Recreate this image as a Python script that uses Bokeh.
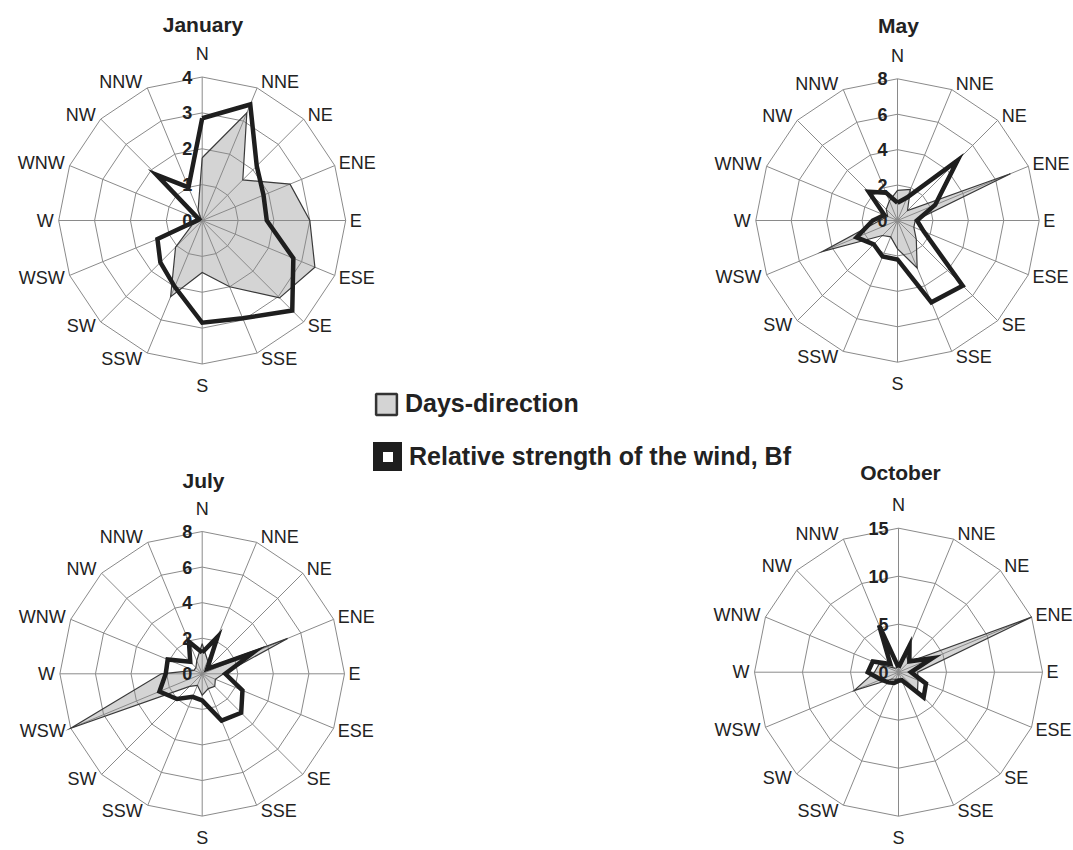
import math
from bokeh.plotting import figure
from bokeh.models import Range1d, Legend, LegendItem
from bokeh.core.properties import value
from bokeh.embed import file_html
from bokeh.resources import INLINE

# ---------------- data ----------------
directions = ["N", "NNE", "NE", "ENE", "E", "ESE", "SE", "SSE",
              "S", "SSW", "SW", "WSW", "W", "WNW", "NW", "NNW"]

jan_days = [1.75, 3.25, 1.6, 2.65, 3.0, 3.4, 3.05, 2.0, 1.45, 2.3, 1.05, 0.3, 0.05, 0.05, 0.05, 0.3]
jan_strength = [2.85, 3.5, 2.15, 1.85, 1.8, 2.75, 3.55, 2.95, 2.85, 2.0, 1.65, 1.35, 0.15, 0.1, 1.8, 1.0]
jan_ticks = [0, 1, 2, 3, 4]

may_days = [1.7, 1.9, 0.8, 6.9, 1.0, 1.0, 1.5, 2.9, 1.6, 1.0, 1.2, 4.6, 1.0, 0.6, 0.9, 1.2]
may_strength = [1.0, 1.4, 4.8, 2.3, 1.1, 1.6, 5.2, 5.0, 2.2, 2.2, 1.9, 2.5, 1.4, 0.8, 2.3, 1.7]
may_ticks = [0, 2, 4, 6, 8]

jul_days = [1.7, 0.8, 0.5, 5.2, 1.2, 0.8, 1.0, 0.9, 1.2, 0.7, 1.0, 8.0, 2.3, 0.5, 0.5, 0.8]
jul_strength = [1.2, 2.25, 0.4, 3.1, 1.3, 2.45, 3.1, 2.85, 1.5, 1.4, 2.0, 2.6, 2.05, 2.1, 0.95, 1.95]
jul_ticks = [0, 2, 4, 6, 8]

oct_days = [0.8, 2.0, 1.5, 15.0, 2.0, 2.2, 2.8, 0.8, 0.7, 0.8, 1.0, 5.0, 2.5, 2.2, 0.6, 0.5]
oct_strength = [0.5, 3.0, 1.6, 3.8, 1.3, 3.1, 3.7, 0.9, 0.9, 1.2, 1.5, 2.0, 3.2, 2.9, 1.2, 5.3]
oct_ticks = [0, 5, 10, 15]

series_names = ["Days-direction", "Relative strength of the wind, Bf"]

charts = [
    ("January", jan_days, jan_strength, jan_ticks),
    ("May", may_days, may_strength, may_ticks),
    ("July", jul_days, jul_strength, jul_ticks),
    ("October", oct_days, oct_strength, oct_ticks),
]

# ---------------- layout (page pixels) ----------------
W, H = 1073, 850
geom = {
    "January": dict(cx=201.7, cy=220.0, R=143.5, tx=202.5, ty=24),
    "May": dict(cx=897.0, cy=220.0, R=141.7, tx=898.0, ty=25),
    "July": dict(cx=201.7, cy=673.3, R=142.3, tx=203.0, ty=480),
    "October": dict(cx=898.0, cy=671.7, R=144.0, tx=900.0, ty=472),
}

FONT = "Liberation Sans"
TXT = "#222222"
GRID = "#8a8a8a"
GRAY_FILL = "#d4d4d4"
GRAY_LINE = "#3a3a3a"
BLACK = "#1e1e1e"

p = figure(width=W, height=H, x_range=Range1d(0, W), y_range=Range1d(H, 0),
           output_backend="svg", toolbar_location=None, min_border=0,
           x_axis_type=None, y_axis_type=None)
p.outline_line_color = None
p.background_fill_color = "white"
p.border_fill_color = "white"

n = len(directions)
angles = [2 * math.pi * k / n for k in range(n)]


def to_xy(g, vals, vmax):
    xs = [g["cx"] + g["R"] * v / vmax * math.sin(a) for v, a in zip(vals, angles)]
    ys = [g["cy"] - g["R"] * v / vmax * math.cos(a) for v, a in zip(vals, angles)]
    return xs, ys


for name, days, strength, ticks in charts:
    g = geom[name]
    vmax = ticks[-1]
    cx, cy, R = g["cx"], g["cy"], g["R"]

    # gray area fill
    dx, dy = to_xy(g, days, vmax)
    p.patch(dx, dy, fill_color=GRAY_FILL, line_color=None)

    # grid rings and spokes
    ring_xs, ring_ys = [], []
    for t in ticks[1:]:
        rx, ry = to_xy(g, [t] * n, vmax)
        ring_xs.append(rx + [rx[0]])
        ring_ys.append(ry + [ry[0]])
    ox, oy = to_xy(g, [vmax] * n, vmax)
    for x1, y1 in zip(ox, oy):
        ring_xs.append([cx, x1])
        ring_ys.append([cy, y1])
    p.multi_line(ring_xs, ring_ys, line_color=GRID, line_width=1)

    # gray outline
    p.line(dx + [dx[0]], dy + [dy[0]], line_color=GRAY_LINE, line_width=1.2, line_join="miter")

    # strength line
    sx, sy = to_xy(g, strength, vmax)
    p.line(sx + [sx[0]], sy + [sy[0]], line_color=BLACK, line_width=4.5, line_join="miter")

    # direction labels
    groups = {"left": ([], [], []), "right": ([], [], []), "center": ([], [], [])}
    for k, (d, a) in enumerate(zip(directions, angles)):
        vx, vy = ox[k], oy[k]
        if k == 0:
            grp, x, y = "center", vx, vy - 23
        elif k == n // 2:
            grp, x, y = "center", vx, vy + 22
        elif k < n // 2:
            grp, x, y = "left", vx + 4, vy - 6 * math.cos(a)
        else:
            grp, x, y = "right", vx - 5, vy - 6 * math.cos(a)
        groups[grp][0].append(x)
        groups[grp][1].append(y)
        groups[grp][2].append(d)
    for align, (xs, ys, ts) in groups.items():
        p.text(xs, ys, text=ts, text_align=align, text_baseline="middle",
               text_font=value(FONT), text_font_size="18px", text_color=TXT)

    # tick labels
    tys = [cy - R * t / vmax for t in ticks]
    p.text([cx - 10] * len(ticks), tys, text=[str(t) for t in ticks], text_align="right",
           text_baseline="middle", text_font=value(FONT), text_font_size="18px",
           text_font_style="bold", text_color=TXT)

    # title
    p.text([g["tx"]], [g["ty"]], text=[name], text_align="center", text_baseline="middle",
           text_font=value(FONT), text_font_size="21px", text_font_style="bold", text_color=TXT)

# ---------------- legend ----------------
nan = float("nan")
leg_days = p.patch(x=[nan], y=[nan], fill_color=GRAY_FILL, line_color="#333333", line_width=2.5)
leg_str = p.patch(x=[nan], y=[nan], fill_color="white", line_color=BLACK, line_width=13.2)

common = dict(padding=0, margin=0, border_line_color=None, background_fill_alpha=0,
              label_text_font=FONT, label_text_font_size="25px", label_text_font_style="bold",
              label_text_color=TXT, spacing=0)
legend1 = Legend(items=[LegendItem(label=series_names[0], renderers=[leg_days])],
                 location=(373, H - 418), glyph_width=26, glyph_height=26,
                 label_standoff=6, **common)
legend2 = Legend(items=[LegendItem(label=series_names[1], renderers=[leg_str])],
                 location=(373, H - 471), glyph_width=29, glyph_height=29,
                 label_standoff=7, **common)
p.add_layout(legend1)
p.add_layout(legend2)

open("out.html", "w").write(file_html(p, INLINE))
